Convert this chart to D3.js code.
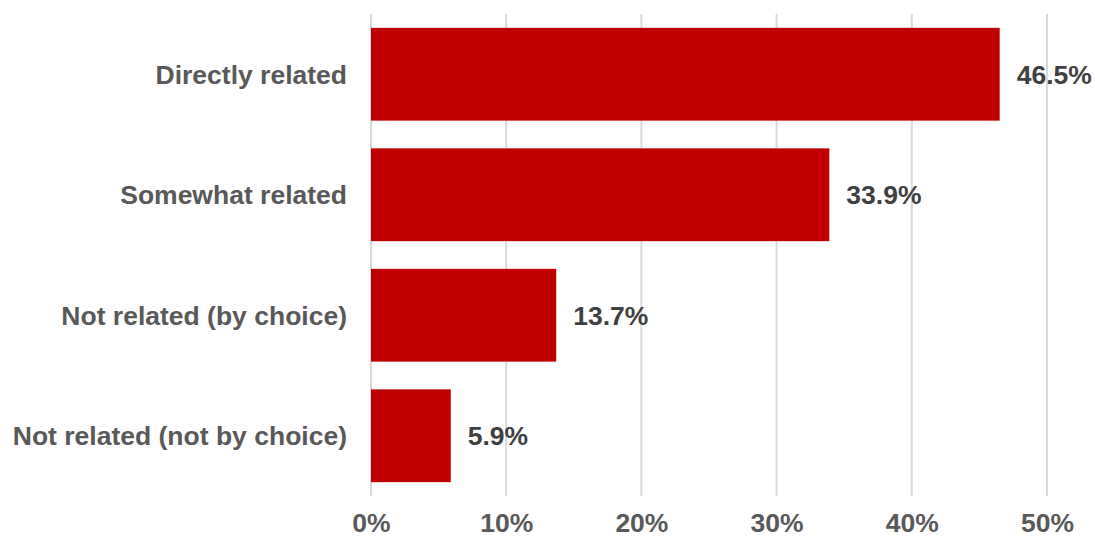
<!DOCTYPE html>
<html>
<head>
<meta charset="utf-8">
<script src="https://cdn.jsdelivr.net/npm/d3@7"></script>
<style>
  html, body { margin: 0; padding: 0; background: #fff; }
  svg { display: block; }
  text { font-family: "Liberation Sans", Arial, sans-serif; font-weight: bold; }
</style>
</head>
<body>
<svg id="chart" width="1095" height="538"></svg>
<script>
// Relatedness of current job to field of study
const categories = [
  "Directly related",
  "Somewhat related",
  "Not related (by choice)",
  "Not related (not by choice)"
];
const shares = [46.5, 33.9, 13.7, 5.9];
const tickValues = [0, 10, 20, 30, 40, 50];

const svg = d3.select("#chart");
const plot = { left: 371, right: 1047, top: 14, bottom: 496 };
const fontSize = 26.5;

const x = d3.scaleLinear().domain([0, 50]).range([plot.left, plot.right]);
const y = d3.scaleBand()
  .domain(categories)
  .range([plot.top, plot.bottom])
  .paddingInner(0.23)
  .paddingOuter(0.115);

// vertical gridlines
svg.append("g")
  .selectAll("line")
  .data(tickValues)
  .join("line")
  .attr("x1", d => x(d)).attr("x2", d => x(d))
  .attr("y1", plot.top).attr("y2", plot.bottom)
  .attr("stroke", "#d9d9d9")
  .attr("stroke-width", 2);

// bars
svg.append("g")
  .selectAll("rect")
  .data(shares)
  .join("rect")
  .attr("x", x(0))
  .attr("y", (d, i) => y(categories[i]))
  .attr("width", d => x(d) - x(0))
  .attr("height", y.bandwidth())
  .attr("fill", "#c00000");

// value labels
svg.append("g")
  .selectAll("text")
  .data(shares)
  .join("text")
  .attr("x", d => x(d) + 17)
  .attr("y", (d, i) => y(categories[i]) + y.bandwidth() / 2)
  .attr("dy", "0.35em")
  .attr("font-size", fontSize)
  .attr("fill", "#404040")
  .text(d => d.toFixed(1) + "%");

// category axis labels
svg.append("g")
  .selectAll("text")
  .data(categories)
  .join("text")
  .attr("x", 347)
  .attr("y", d => y(d) + y.bandwidth() / 2)
  .attr("dy", "0.35em")
  .attr("text-anchor", "end")
  .attr("font-size", fontSize)
  .attr("fill", "#595959")
  .text(d => d);

// x axis tick labels
const xAxis = d3.axisBottom(x)
  .tickValues(tickValues)
  .tickFormat(d => d + "%")
  .tickSize(0)
  .tickPadding(0);

const gx = svg.append("g")
  .attr("transform", `translate(0, ${plot.bottom})`)
  .call(xAxis);
gx.select(".domain").remove();
gx.selectAll("text")
  .attr("y", 36)
  .attr("dy", 0)
  .attr("font-size", fontSize)
  .attr("font-family", "'Liberation Sans', Arial, sans-serif")
  .attr("font-weight", "bold")
  .attr("fill", "#595959");
</script>
</body>
</html>
